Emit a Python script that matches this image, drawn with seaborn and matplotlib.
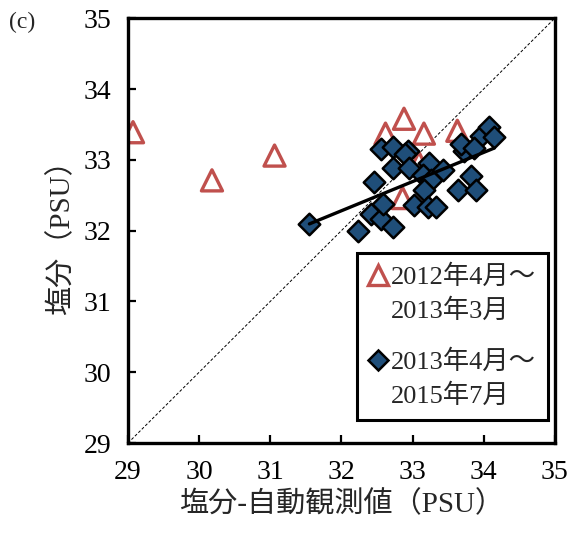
import numpy as np
import pandas as pd
import matplotlib
matplotlib.use("Agg")
import matplotlib.pyplot as plt
import seaborn as sns
from matplotlib.lines import Line2D

# Salinity: automatic observation (x) vs. reference measurement (y), PSU
tri_x = [29.07, 30.18, 31.06, 32.62, 32.88, 33.16, 33.63, 33.09, 32.86]
tri_y = [33.39, 32.71, 33.06, 33.37, 33.58, 33.37, 33.41, 32.96, 32.46]

dia_x = [31.55, 32.24, 32.41, 32.55, 32.72, 32.58, 32.46, 32.55, 32.72, 32.93,
         32.90, 32.72, 32.95, 33.23, 33.43, 33.15, 33.26, 33.16, 33.02, 33.22,
         33.33, 33.82, 33.64, 33.89, 33.72, 33.68, 33.96, 34.08, 34.15, 33.86]
dia_y = [32.10, 31.99, 32.24, 32.17, 32.05, 32.38, 32.68, 33.15, 33.18, 33.13,
         33.08, 32.88, 32.88, 32.95, 32.85, 32.78, 32.71, 32.57, 32.36, 32.34,
         32.33, 32.77, 32.57, 32.58, 33.13, 33.23, 33.34, 33.46, 33.32, 33.17]

label_a = ["2012年4月～", "2013年3月\n"]
label_b = ["2013年4月～", "2015年7月"]
x_label = "塩分-自動観測値（PSU）"
y_label = "塩分（PSU）"
ticks = [29, 30, 31, 32, 33, 34, 35]

sns.set_theme(style="white")
fam = ["Liberation Serif", "Noto Sans CJK JP", "DejaVu Sans"]
plt.rcParams["font.family"] = fam

red = "#C0504D"
navy = "#1F4E79"

fig = plt.figure(figsize=(5.69, 5.36), dpi=100)
ax = fig.add_axes([0.225, 0.1735, 0.75, 0.7925])

# 1:1 reference line
ax.plot([29, 35], [29, 35], color="black", lw=0.7, ls=(0, (3, 2)), zorder=1)

df_a = pd.DataFrame({"x": tri_x, "y": tri_y})
df_b = pd.DataFrame({"x": dia_x, "y": dia_y})

sns.scatterplot(data=df_a, x="x", y="y", ax=ax, marker="^", s=230,
                facecolor="none", edgecolor=red, linewidth=2.4, zorder=2)
sns.regplot(data=df_b, x="x", y="y", ax=ax, ci=None, marker="D",
            scatter_kws=dict(s=120, color=navy, edgecolor="black",
                             linewidths=1.8, alpha=1, zorder=3),
            line_kws=dict(color="black", lw=2.4, zorder=4))

ax.set_xlim(29, 35)
ax.set_ylim(29, 35)
ax.set_xticks(ticks)
ax.set_yticks(ticks)
ax.set_xticklabels([str(t) for t in ticks])
ax.set_yticklabels([str(t) for t in ticks])
ax.tick_params(direction="in", length=6, width=1.6, labelsize=20, pad=12,
               bottom=True, left=True, colors="black")
for sp in ax.spines.values():
    sp.set_linewidth(2.4)
    sp.set_color("black")

ax.set_xlabel(x_label, fontsize=21, family=fam, labelpad=4)
ax.set_ylabel(y_label, fontsize=21, family=fam, labelpad=6)

blank = Line2D([], [], ls="none", marker=None)
handles = [
    Line2D([], [], marker="^", ls="none", markersize=14, markerfacecolor="none",
           markeredgecolor=red, markeredgewidth=2.4),
    blank,
    Line2D([], [], marker="D", ls="none", markersize=10, markerfacecolor=navy,
           markeredgecolor="black", markeredgewidth=1.8),
    blank,
]
leg = ax.legend(handles, label_a + label_b, loc="lower right",
                bbox_to_anchor=(0.985, 0.055), frameon=True, fancybox=False,
                fontsize=19, handlelength=0.7, handletextpad=0.15,
                labelspacing=0.35, borderpad=0.45, borderaxespad=0)
leg.get_frame().set_edgecolor("black")
leg.get_frame().set_linewidth(2.2)
leg.get_frame().set_alpha(1)
for t in leg.get_texts():
    t.set_linespacing(0.75)

fig.text(0.015, 0.947, "(c)", fontsize=17, family=fam)

fig.savefig("out.png", dpi=100)
